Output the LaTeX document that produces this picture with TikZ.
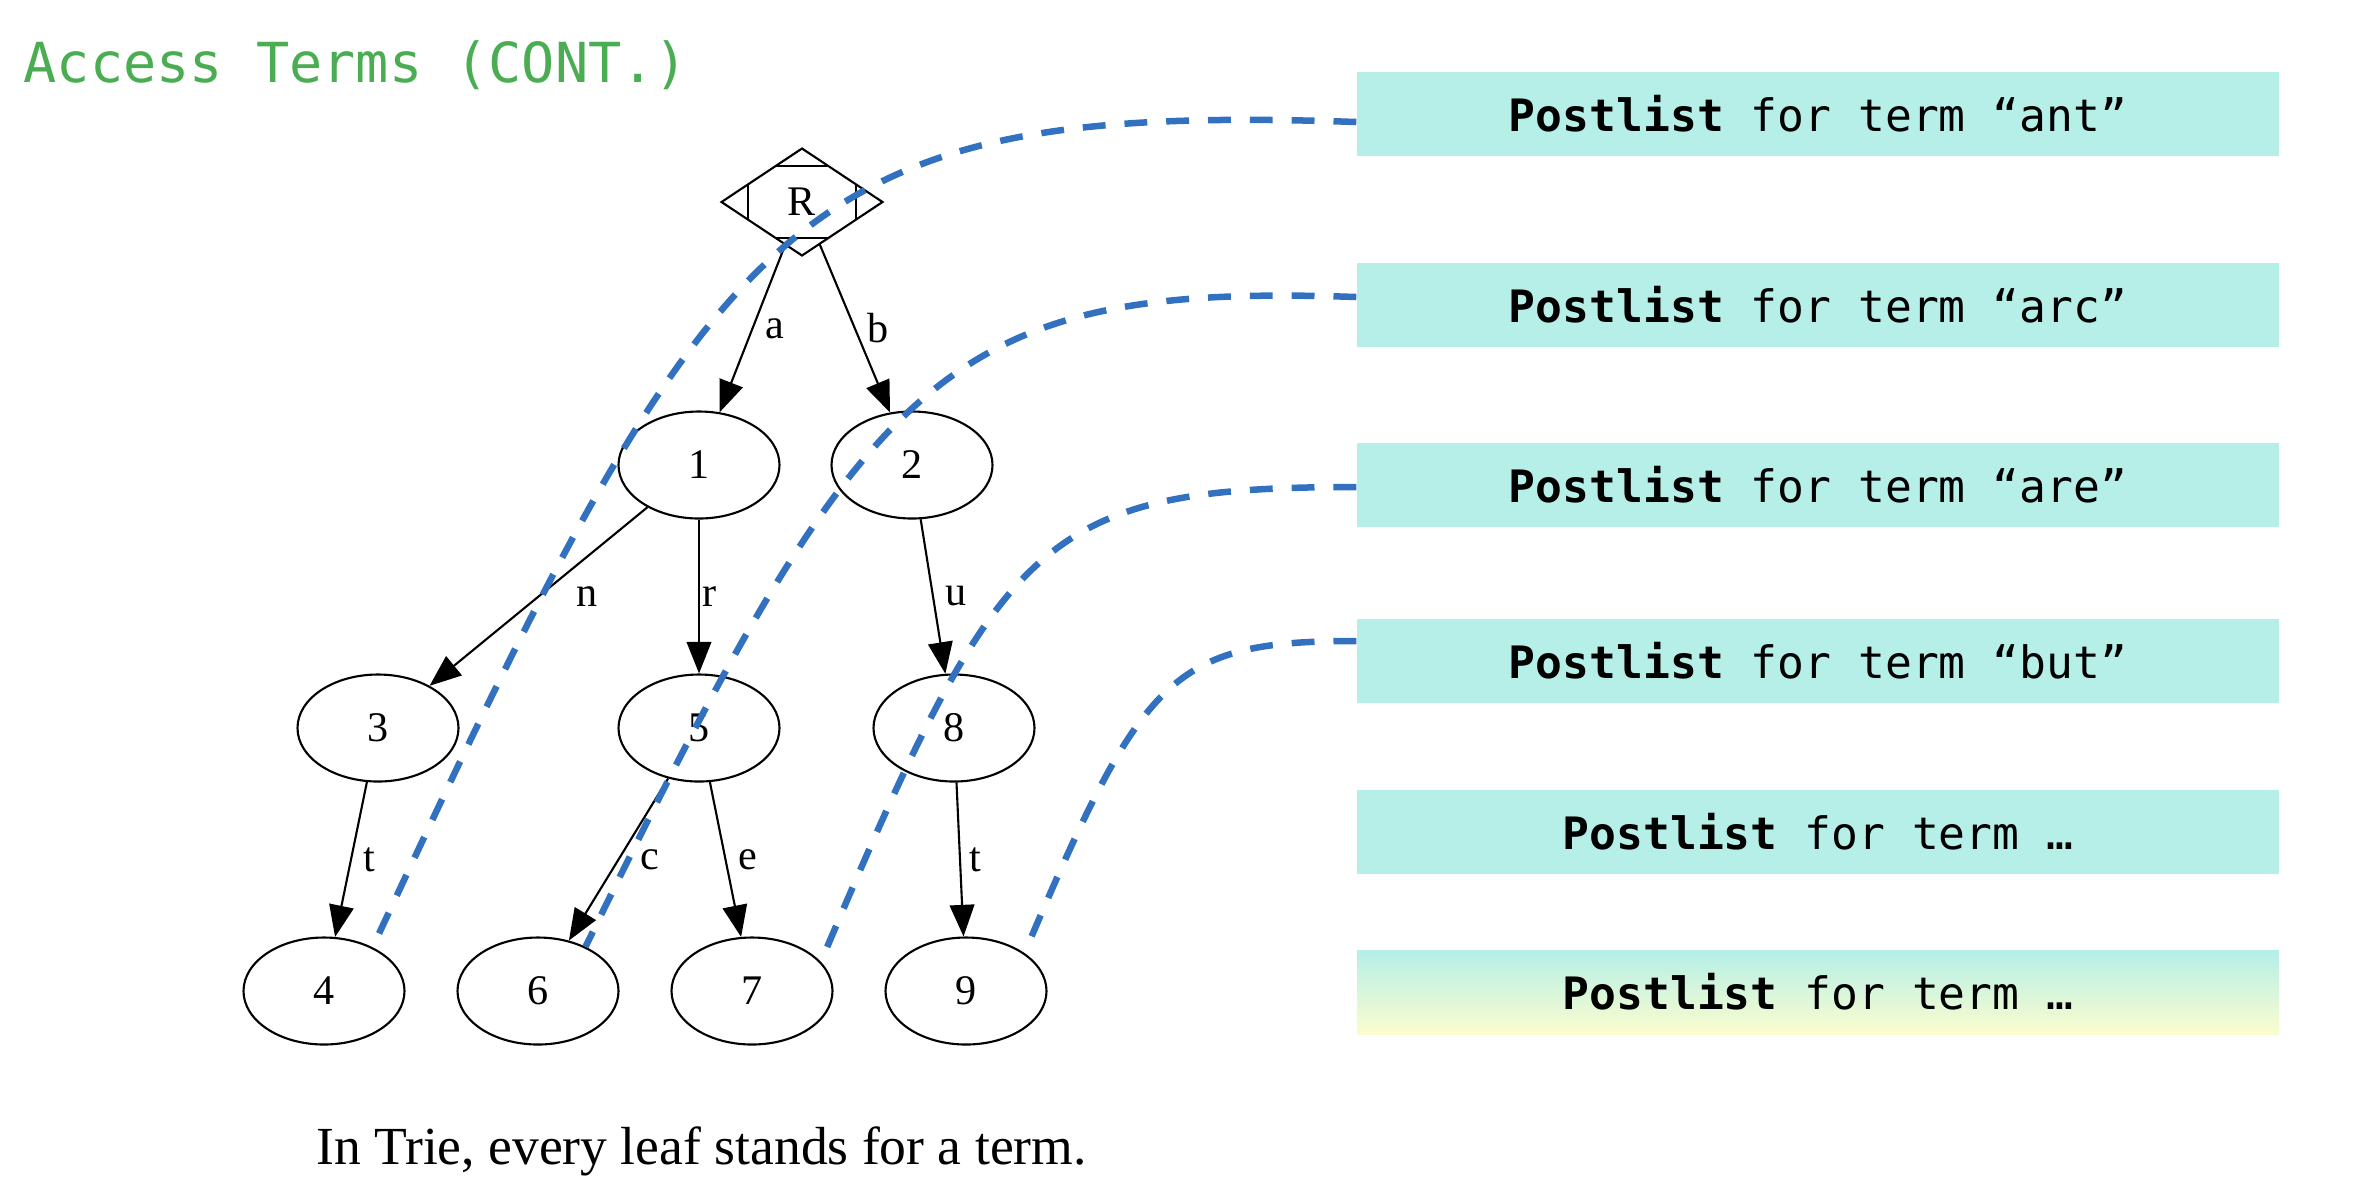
\documentclass[tikz,border=0pt]{standalone}
\usepackage{fontspec}
\setmainfont{Liberation Serif}
\newfontfamily\plfont{DejaVu Sans Mono}
\usetikzlibrary{shapes.geometric,arrows.meta,calc}
\definecolor{titlegreen}{RGB}{74,173,82}
\definecolor{plcyan}{RGB}{181,239,232}
\definecolor{plyellow}{RGB}{251,253,206}
\definecolor{linkblue}{RGB}{50,112,192}

\begin{document}
\begin{tikzpicture}[
        trie/.style={draw,ellipse,line width=0.6pt,minimum width=1.61cm,minimum height=1.07cm,inner sep=0pt,font=\fontsize{12}{14}\selectfont},
        edge/.style={line width=0.6pt,-{Triangle[length=9pt,width=7pt]}},
        lab/.style={midway,right,font=\fontsize{12}{14}\selectfont},
        postlist/.style={fill=plcyan,minimum width=9.22cm,minimum height=0.84cm,inner sep=0pt,font=\plfont\fontsize{12.7}{15}\selectfont},
        link/.style={linkblue,line width=1.85pt,dash pattern=on 6.5pt off 5.4pt}
    ]
    \useasboundingbox (0,0) rectangle (23.56,-12);
    \node[anchor=base west,inner sep=0pt,text=titlegreen,font=\plfont\fontsize{15.7}{19}\selectfont] (title) at (0.23,-0.82) {Access Terms (CONT.)};

    \node[draw,diamond,line width=0.6pt,outer sep=0pt,minimum width=1.61cm,minimum height=1.07cm,inner sep=0pt,font=\fontsize{12}{14}\selectfont] (R) at (8.02,-2.02) {R};
    \foreach \a/\b/\c in {north/west/east,south/west/east,west/north/south,east/north/south}
        \draw[line width=0.6pt] ($(R.\a)!1/3!(R.\b)$) -- ($(R.\a)!1/3!(R.\c)$);
    \node[trie] (n1) at (6.99,-4.65) {1};
    \node[trie] (n2) at (9.12,-4.65) {2};
    \node[trie] (n3) at (3.78,-7.28) {3};
    \node[trie] (n5) at (6.99,-7.28) {5};
    \node[trie] (n8) at (9.54,-7.28) {8};
    \node[trie] (n4) at (3.24,-9.91) {4};
    \node[trie] (n6) at (5.38,-9.91) {6};
    \node[trie] (n7) at (7.52,-9.91) {7};
    \node[trie] (n9) at (9.66,-9.91) {9};

    \draw[edge] (R) -- node[lab] {a} (n1);
    \draw[edge] (R) -- node[lab] {b} (n2);
    \draw[edge] (n1) -- node[lab,xshift=0.25cm] {n} (n3);
    \draw[edge] (n1) -- node[lab,xshift=-0.09cm] {r} (n5);
    \draw[edge] (n2) -- node[lab] {u} (n8);
    \draw[edge] (n3) -- node[lab] {t} (n4);
    \draw[edge] (n5) -- node[lab,xshift=0.09cm] {c} (n6);
    \draw[edge] (n5) -- node[lab] {e} (n7);
    \draw[edge] (n8) -- node[lab,xshift=-0.03cm] {t} (n9);

    \node[anchor=base,font=\fontsize{15.25}{18}\selectfont] (caption) at (7.015,-11.645) {In Trie, every leaf stands for a term.};

    \node[postlist] (pl1) at (18.18,-1.14) {\textbf{Postlist} for term “ant”};
    \node[postlist] (pl2) at (18.18,-3.05) {\textbf{Postlist} for term “arc”};
    \node[postlist] (pl3) at (18.18,-4.85) {\textbf{Postlist} for term “are”};
    \node[postlist] (pl4) at (18.18,-6.61) {\textbf{Postlist} for term “but”};
    \node[postlist] (pl5) at (18.18,-8.32) {\textbf{Postlist} for term …};
    \node[postlist,top color=plcyan,bottom color=plyellow] (pl6) at (18.18,-9.92) {\textbf{Postlist} for term …};

    \draw[link] ([yshift=-0.08cm]pl1.west) to[out=178,in=65,out distance=5.7cm,in distance=8.15cm] (n4.42);
    \draw[link] ([yshift=0.08cm]pl2.west) to[out=178,in=64,out distance=4.15cm,in distance=6.4cm] (n6.43);
    \draw[link] ([yshift=-0.02cm]pl3.west) to[out=180,in=67,out distance=3.2cm,in distance=4.6cm] (n7.23);
    \draw[link] ([yshift=0.2cm]pl4.west) to[out=180,in=67,out distance=1.85cm,in distance=3.03cm] (n9.33);
\end{tikzpicture}
\end{document}
